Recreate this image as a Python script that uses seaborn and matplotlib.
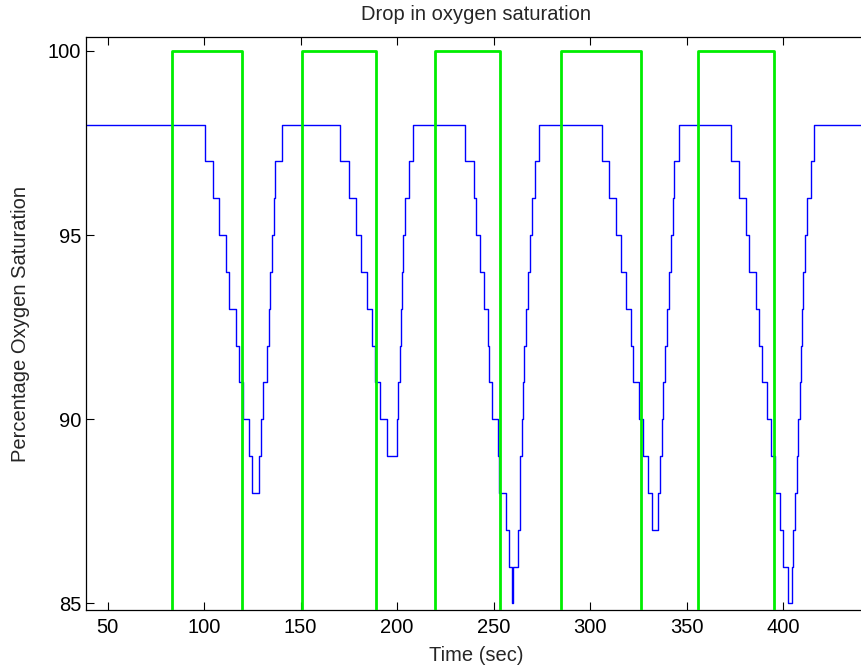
import matplotlib
matplotlib.use("Agg")
import matplotlib.pyplot as plt
import seaborn as sns

# blue trace: time (sec) at which the reading changes, and the new reading
spo2_time = [38.0,
             100.5, 104.8, 107.9, 111.3, 112.9, 116.5, 118.1, 120.3, 123.4, 125.0,
             128.4, 129.3, 130.7, 132.6, 133.5, 134.1, 135.3, 136.0, 136.9, 140.2,
             170.4, 175.2, 178.7, 181.1, 184.6, 186.8, 188.5, 191.1, 194.6,
             199.8, 200.6, 201.5, 201.9, 202.5, 203.2, 204.1, 206.3, 208.4,
             235.2, 239.8, 240.9, 243.0, 245.2, 246.9, 247.8, 249.3, 252.1, 252.8,
             256.3, 258.0, 259.7, 260.2, 262.8, 263.7, 263.9, 264.6, 265.4, 265.8,
             266.6, 268.0, 268.9, 269.7, 271.5, 273.7,
             306.0, 309.8, 313.4, 316.0, 318.4, 321.0, 322.4, 325.3, 327.6, 330.2,
             331.9, 335.3, 336.2, 337.1, 337.9, 338.8, 339.7, 341.0, 341.9, 342.8,
             343.6, 346.2,
             373.0, 377.3, 380.8, 382.5, 386.0, 387.6, 389.2, 391.8, 393.6, 395.6,
             398.4, 399.8, 402.7, 404.5, 405.3, 406.2, 407.1, 407.5, 408.5, 409.2,
             410.0, 410.5, 411.4, 412.3, 414.5, 416.2,
             450.0]
spo2_level = [98,
              97, 96, 95, 94, 93, 92, 91, 90, 89, 88,
              89, 90, 91, 92, 93, 94, 95, 96, 97, 98,
              97, 96, 95, 94, 93, 92, 91, 90, 89,
              90, 91, 92, 93, 94, 95, 96, 97, 98,
              97, 96, 95, 94, 93, 92, 91, 90, 89, 88,
              87, 86, 85, 86, 87, 88, 89, 90, 91, 92,
              93, 94, 95, 96, 97, 98,
              97, 96, 95, 94, 93, 92, 91, 90, 89, 88,
              87, 88, 89, 90, 91, 92, 93, 94, 95, 96,
              97, 98,
              97, 96, 95, 94, 93, 92, 91, 90, 89, 88,
              87, 86, 85, 86, 87, 88, 89, 90, 91, 92,
              93, 94, 95, 96, 97, 98,
              98]

# green marker: stimulus on / off times
pulse_on = [83.2, 150.9, 219.5, 285.1, 356.1]
pulse_off = [119.5, 189.1, 253.3, 326.5, 395.4]
pulse_high = 100
pulse_low = 80

x_ticks = [50, 100, 150, 200, 250, 300, 350, 400]
y_ticks = [85, 90, 95, 100]

pulse_x = [38.0]
pulse_y = [pulse_low]
for on, off in zip(pulse_on, pulse_off):
    pulse_x += [on, off]
    pulse_y += [pulse_high, pulse_low]
pulse_x.append(450.0)
pulse_y.append(pulse_low)

sns.set_style("ticks")
plt.rcParams['font.family'] = ['Liberation Sans', 'DejaVu Sans']
fs = 14.5

fig = plt.figure(figsize=(8.62, 6.71), dpi=100)
ax = fig.add_axes([86 / 862, 61 / 671, 780 / 862, 573 / 671])

sns.lineplot(x=spo2_time, y=spo2_level, drawstyle='steps-post', color='#0000ff',
             linewidth=1.0, estimator=None, sort=False, ax=ax, zorder=2)
sns.lineplot(x=pulse_x, y=pulse_y, drawstyle='steps-post', color='#00ee00',
             linewidth=2.0, estimator=None, sort=False, ax=ax, zorder=3)

ax.set_xlim(38.8, 50 + (866 - 107.6) / 1.93)
ax.set_ylim(84.82, 100.38)
ax.set_xticks(x_ticks)
ax.set_yticks(y_ticks)
ax.tick_params(direction='in', length=6, width=0.8, top=True, right=False,
               labelsize=fs, colors='black')
ax.tick_params(axis='x', pad=5.5)
ax.tick_params(axis='y', pad=3.5)
for s in ax.spines.values():
    s.set_linewidth(0.9)
    s.set_color('black')
ax.spines['right'].set_visible(False)

ax.set_title('Drop in oxygen saturation', fontsize=fs, pad=12.6)
ax.set_xlabel('Time (sec)', fontsize=fs)
ax.set_ylabel('Percentage Oxygen Saturation', fontsize=fs)
ax.xaxis.set_label_coords(0.5, -0.063)
ax.yaxis.set_label_coords((30 - 86) / 780, 0.5)

fig.savefig('out.png', dpi=100)
